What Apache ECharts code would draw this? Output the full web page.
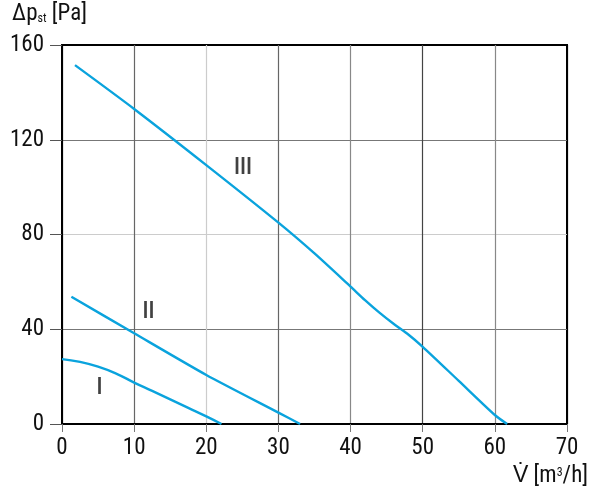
<!DOCTYPE html>
<html><head><meta charset="utf-8">
<script src="https://cdn.jsdelivr.net/npm/echarts@6/dist/echarts.min.js"></script>
<style>html,body{margin:0;padding:0;background:#fff}#c{width:600px;height:498px}</style>
</head><body><div id="c"></div>
<script>
const xTicks = [0,10,20,30,40,50,60,70];
const yTicks = [0,40,80,120,160];
const curveI = [[0,27.4],[2.5,26.2],[5,24.2],[7.5,21.3],[10,17.5],[12.5,14.0],[15,10.4],[17.5,6.8],[20,3.2],[22.1,0]];
const curveII = [[1.3,53.7],[10,38.3],[20,20.7],[30,4.8],[33,0]];
const curveIII = [[1.8,151.5],[10,133],[20,109.3],[30,85],[35,72],[40,58],[42,52.3],[44,47],[46,42.2],[48,37.8],[50,32.6],[55,18.2],[60,3.8],[61.7,0]];
const labels = [{name:'I',x:5.2,y:15},{name:'II',x:12,y:47},{name:'III',x:25.1,y:108}];
const lineColor = '#0aa3dd';

function pickFont(cands){
  const ctx = document.createElement('canvas').getContext('2d');
  const t = '0123456789 IIIVpabc';
  for (const f of cands){
    let ok = true;
    for (const fb of ['monospace','serif']){
      ctx.font = '40px ' + fb; const w0 = ctx.measureText(t).width;
      ctx.font = "40px '" + f + "', " + fb; const w1 = ctx.measureText(t).width;
      if (Math.abs(w1-w0) < 0.01) ok = false;
    }
    if (ok) return f;
  }
  return 'Liberation Sans';
}
const sizes = {'Liberation Sans Narrow':23,'Roboto Condensed':23,'Noto Sans Condensed':21,'Open Sans Condensed':22,'DejaVu Sans Condensed':20,'Liberation Sans':20};
const FAM = pickFont(['Liberation Sans Narrow','Roboto Condensed','Noto Sans Condensed','Open Sans Condensed','DejaVu Sans Condensed','Liberation Sans']);
const FONT = "'" + FAM + "', sans-serif";
const FS = sizes[FAM] || 20;

const chart = echarts.init(document.getElementById('c'), null, {renderer:'canvas'});
const mk = (d, s) => ({type:'line', data:d, smooth:s, symbol:'none', lineStyle:{color:lineColor,width:2.4}, z:5});
chart.setOption({
  animation:false,
  grid:{left:62,right:33,top:45,bottom:74,show:true,borderColor:'#000',borderWidth:2,backgroundColor:'transparent'},
  xAxis:{type:'value',min:xTicks[0],max:xTicks[xTicks.length-1],interval:10,
    axisLine:{show:true,lineStyle:{color:'#000',width:2}},
    axisTick:{show:true,length:8,lineStyle:{color:'#777',width:1}},
    axisLabel:{color:'#111',fontFamily:FONT,fontSize:FS,margin:13},
    splitLine:{show:true,lineStyle:{color:['#000','#666','#ccc','#666','#888','#444','#888','#000'],width:1.2}}},
  yAxis:{type:'value',min:yTicks[0],max:yTicks[yTicks.length-1],interval:40,
    axisLine:{show:true,lineStyle:{color:'#000',width:2}},
    axisTick:{show:true,length:12,lineStyle:{color:'#555',width:1}},
    axisLabel:{color:'#111',fontFamily:FONT,fontSize:FS,margin:18},
    splitLine:{show:true,lineStyle:{color:['#000','#777','#ccc','#777','#000'],width:1.2}}},
  series:[mk(curveI,0.5),mk(curveII,0.2),mk(curveIII,0.25),
    {type:'scatter',data:labels.map(l=>[l.x,l.y,l.name]),symbolSize:0,z:6,
     label:{show:true,position:'inside',formatter:p=>p.data[2],color:'#111',fontFamily:FONT,fontSize:FS,fontWeight:500}}],
  graphic:[
    {type:'text',left:12,top:3,style:{text:'{a|Δp}{s|st}{a| [Pa]}',rich:{a:{fontFamily:FONT,fontSize:FS,fill:'#111'},s:{fontFamily:FONT,fontSize:12,fill:'#111',padding:[8,0,0,0]}}}},
    {type:'text',right:12,top:465,style:{text:'V\u0307 [m{u|3}/h]',font:FS+'px '+FONT,fill:'#111',rich:{u:{fontFamily:FONT,fontSize:12,fill:'#111',padding:[0,0,8,0]}}}}
  ]
});
</script></body></html>
